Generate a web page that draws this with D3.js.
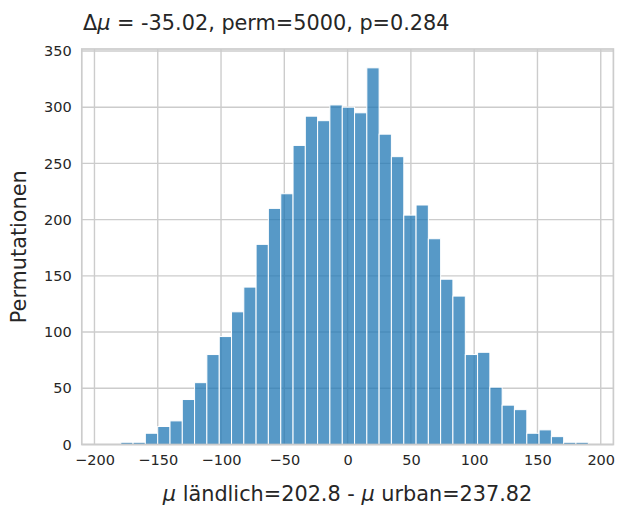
<!DOCTYPE html>
<html>
<head>
<meta charset="utf-8">
<script src="https://cdn.jsdelivr.net/npm/d3@7"></script>
<style>
  html, body { margin: 0; padding: 0; background: #ffffff; }
  svg { display: block; font-family: "DejaVu Sans", sans-serif; }
</style>
</head>
<body>
<svg id="chart" width="617" height="507"></svg>
<script>
// Histogram bin edges (39 edges -> 38 bins)
const binEdges = [-179.2, -169.5, -159.8, -150.0, -140.3, -130.6, -120.9, -111.2, -101.4, -91.7,
  -82.0, -72.3, -62.6, -52.8, -43.1, -33.4, -23.7, -14.0, -4.2, 5.5,
  15.2, 24.9, 34.6, 44.4, 54.1, 63.8, 73.5, 83.2, 93.0, 102.7,
  112.4, 122.1, 131.8, 141.6, 151.3, 161.0, 170.7, 180.4, 190.2];
// Counts per bin
const counts = [2, 2, 10, 16, 21, 40, 55, 80, 96, 118,
  140, 178, 210, 223, 266, 292, 288, 302, 300, 295,
  335, 276, 256, 204, 213, 183, 147, 132, 80, 82,
  51, 35, 31, 10, 13, 7, 2, 2];
const xTicks = [-200, -150, -100, -50, 0, 50, 100, 150, 200];
const yTicks = [0, 50, 100, 150, 200, 250, 300, 350];
const xDomain = [-210, 210];
const yDomain = [0, 351.75];

const svg = d3.select("#chart");
const pLeft = 81.8, pRight = 613.4, pTop = 49, pBottom = 444.5;
const x = d3.scaleLinear().domain(xDomain).range([pLeft, pRight]);
const y = d3.scaleLinear().domain(yDomain).range([pBottom, pTop]);
const textColor = "#262626";
const gridColor = "#cccccc";

// grid
const grid = svg.append("g");
grid.selectAll("line.v").data(xTicks).join("line")
  .attr("x1", d => x(d)).attr("x2", d => x(d))
  .attr("y1", pTop).attr("y2", pBottom)
  .attr("stroke", gridColor).attr("stroke-width", 1.4);
grid.selectAll("line.h").data(yTicks).join("line")
  .attr("x1", pLeft).attr("x2", pRight)
  .attr("y1", d => y(d)).attr("y2", d => y(d))
  .attr("stroke", gridColor).attr("stroke-width", 1.4);

// bars
const bins = counts.map((c, i) => ({ x0: binEdges[i], x1: binEdges[i + 1], c }));
svg.append("g").selectAll("rect").data(bins).join("rect")
  .attr("x", d => x(d.x0))
  .attr("width", d => x(d.x1) - x(d.x0))
  .attr("y", d => y(d.c))
  .attr("height", d => y(0) - y(d.c))
  .attr("fill", "#1f77b4").attr("fill-opacity", 0.75)
  .attr("stroke", "#ffffff").attr("stroke-width", 1);

// frame
svg.append("rect")
  .attr("x", pLeft).attr("y", pTop)
  .attr("width", pRight - pLeft).attr("height", pBottom - pTop)
  .attr("fill", "none").attr("stroke", gridColor).attr("stroke-width", 1.7);

// axes (tick labels via d3 axes, no tick lines)
const fmt = d => (d < 0 ? "\u2212" + Math.abs(d) : String(d));
const xAxis = svg.append("g").attr("transform", `translate(0,${pBottom})`)
  .call(d3.axisBottom(x).tickValues(xTicks).tickFormat(fmt).tickSize(0).tickPadding(10));
const yAxis = svg.append("g").attr("transform", `translate(${pLeft},0)`)
  .call(d3.axisLeft(y).tickValues(yTicks).tickSize(0).tickPadding(10));
[xAxis, yAxis].forEach(a => {
  a.select(".domain").remove();
  a.selectAll("text").attr("fill", textColor)
    .style("font-family", "DejaVu Sans, sans-serif").style("font-size", "14.5px");
});

// title
const title = svg.append("text").attr("x", 83).attr("y", 30)
  .attr("fill", textColor).style("font-size", "20.8px");
title.append("tspan").text("\u0394");
title.append("tspan").attr("font-style", "italic").text("\u03bc");
title.append("tspan").text(" = -35.02, perm=5000, p=0.284");

// x label
const xl = svg.append("text").attr("x", (pLeft + pRight) / 2).attr("y", 501)
  .attr("text-anchor", "middle").attr("fill", textColor).style("font-size", "20.8px");
xl.append("tspan").attr("font-style", "italic").text("\u03bc");
xl.append("tspan").text(" ländlich=202.8 - ");
xl.append("tspan").attr("font-style", "italic").text("\u03bc");
xl.append("tspan").text(" urban=237.82");

// y label
svg.append("text").attr("transform", `translate(26,${(pTop + pBottom) / 2}) rotate(-90)`)
  .attr("text-anchor", "middle").attr("fill", textColor).style("font-size", "20.8px")
  .text("Permutationen");
</script>
</body>
</html>
